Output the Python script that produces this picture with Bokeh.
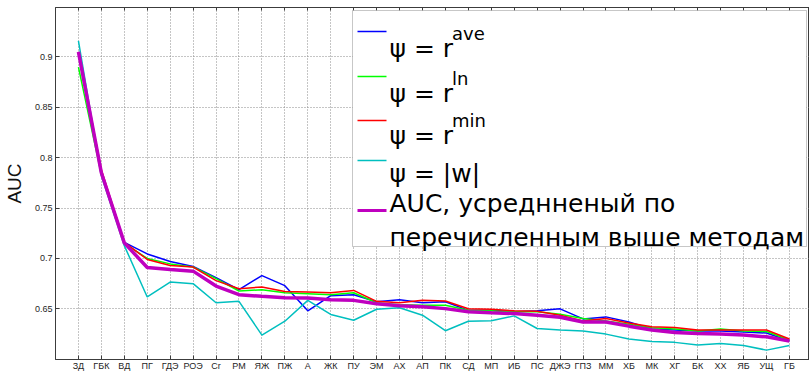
from bokeh.plotting import figure
from bokeh.models import FixedTicker, Range1d, Label, BoxAnnotation, LinearAxis
from bokeh.embed import file_html
from bokeh.resources import INLINE

# ---------------- data ----------------
categories = ["ЗД", "ГБК", "ВД", "ПГ", "ГДЭ", "РОЭ", "Сr", "РМ", "ЯЖ", "ПЖ", "А", "ЖК",
              "ПУ", "ЭМ", "АХ", "АП", "ПК", "СД", "МП", "ИБ", "ПС", "ДЖЭ", "ГПЗ", "ММ",
              "ХБ", "МК", "ХГ", "БК", "ХХ", "ЯБ", "УЩ", "ГБ"]

auc_r_ave = [0.905, 0.786, 0.716, 0.7045, 0.697, 0.692, 0.681, 0.669, 0.683, 0.673, 0.648, 0.663,
             0.664, 0.657, 0.659, 0.656, 0.657, 0.6485, 0.6485, 0.647, 0.648, 0.650, 0.640, 0.642,
             0.637, 0.630, 0.629, 0.628, 0.628, 0.627, 0.626, 0.618]
auc_r_ln = [0.890, 0.783, 0.715, 0.700, 0.6946, 0.6915, 0.680, 0.6677, 0.669, 0.666, 0.665, 0.664,
            0.666, 0.656, 0.654, 0.6535, 0.6535, 0.6485, 0.648, 0.647, 0.647, 0.6447, 0.6404, 0.638,
            0.6347, 0.6312, 0.630, 0.628, 0.630, 0.628, 0.6275, 0.619]
auc_r_min = [0.905, 0.788, 0.716, 0.699, 0.693, 0.6914, 0.678, 0.670, 0.6717, 0.6673, 0.6667, 0.666,
             0.6683, 0.6574, 0.656, 0.6584, 0.6578, 0.650, 0.6496, 0.648, 0.6476, 0.6437, 0.638, 0.6404,
             0.636, 0.6322, 0.6315, 0.629, 0.629, 0.629, 0.629, 0.620]
auc_w = [0.916, 0.782, 0.7127, 0.6618, 0.6766, 0.675, 0.656, 0.6574, 0.6239, 0.6377, 0.6584, 0.6444,
         0.6387, 0.6496, 0.651, 0.6437, 0.6283, 0.6377, 0.6381, 0.643, 0.6305, 0.6289, 0.628, 0.6249,
         0.620, 0.6175, 0.6167, 0.614, 0.6157, 0.6135, 0.609, 0.6135]
auc_mean = [0.905, 0.785, 0.7155, 0.691, 0.689, 0.6874, 0.6726, 0.664, 0.6624, 0.6611, 0.6608, 0.6591,
            0.6584, 0.6551, 0.653, 0.652, 0.6502, 0.647, 0.646, 0.6453, 0.6437, 0.6417, 0.637, 0.637,
            0.6328, 0.6289, 0.6266, 0.6256, 0.6249, 0.624, 0.6222, 0.618]

y_ticks = [0.65, 0.7, 0.75, 0.8, 0.85, 0.9]
y_tick_labels = ["0.65", "0.7", "0.75", "0.8", "0.85", "0.9"]

# ---------------- layout ----------------
W, H = 809, 373
BL, BT, BB = 55, 7, 12
FONT = "Liberation Sans"
LEG_FONT = "DejaVu Sans"
AX = "#3c3c3c"

x = list(range(1, len(categories) + 1))

p = figure(width=W, height=H, output_backend="svg", toolbar_location=None,
           x_range=Range1d(0, 32.875), y_range=Range1d(0.5997, 0.9491),
           min_border_left=BL, min_border_right=0, min_border_top=BT, min_border_bottom=BB,
           background_fill_color="white", border_fill_color="white")
p.outline_line_color = AX
p.outline_line_width = 1

xax = p.below[0]
yax = p.left[0]

# axes
xax.axis_label = None
xax.ticker = FixedTicker(ticks=x)
xax.major_label_overrides = {xi: c for xi, c in zip(x, categories)}
yax.ticker = FixedTicker(ticks=y_ticks)
yax.major_label_overrides = {t: s for t, s in zip(y_ticks, y_tick_labels)}
top_axis = LinearAxis(ticker=FixedTicker(ticks=x), axis_label=None,
                      major_label_overrides={xi: "" for xi in x})
p.add_layout(top_axis, "above")
for ax in (xax, yax, top_axis):
    ax.major_tick_in = 4
    ax.major_tick_out = 0
    ax.minor_tick_in = 0
    ax.minor_tick_out = 0
    ax.axis_line_color = AX
    ax.major_tick_line_color = AX
    ax.major_label_text_font = FONT
    ax.major_label_text_color = "#262626"
top_axis.major_tick_in = 3
top_axis.major_label_text_font_size = "0px"
top_axis.major_label_standoff = 0
xax.major_label_text_font_size = "9px"
yax.major_label_text_font_size = "9px"
xax.major_label_standoff = 1
yax.major_label_standoff = 3
yax.axis_label = "AUC"
yax.axis_label_text_font = FONT
yax.axis_label_text_font_size = "19px"
yax.axis_label_text_font_style = "normal"
yax.axis_label_text_color = "#111111"
yax.axis_label_standoff = 7

# grid
p.xgrid.ticker = FixedTicker(ticks=x)
p.ygrid.ticker = FixedTicker(ticks=y_ticks)
for g in (p.xgrid[0], p.ygrid[0]):
    g.grid_line_color = "#8a8a8a"
    g.grid_line_dash = "1 2"
    g.grid_line_width = 1

# series
p.line(x, auc_r_ave, line_color="#0000ff", line_width=1.5)
p.line(x, auc_r_ln, line_color="#00ff00", line_width=1.5)
p.line(x, auc_r_min, line_color="#ff0000", line_width=1.5)
p.line(x, auc_w, line_color="#00bfbf", line_width=1.5)
p.line(x, auc_mean, line_color="#bf00bf", line_width=3.5)

# ---------------- legend (drawn as annotations, page pixel positions) ----------------
FL = BL          # frame left on the page
FB = H - BB      # frame bottom on the page


def sx(px):
    return px - FL


def sy(py):
    return FB - py


def box(l, r, t, b, **kw):
    return BoxAnnotation(left=sx(l), right=sx(r), top=sy(t), bottom=sy(b),
                         left_units="screen", right_units="screen",
                         top_units="screen", bottom_units="screen", level="overlay", **kw)


def label(px, py, text, size):
    return Label(x=sx(px), y=sy(py), x_units="screen", y_units="screen", text=text,
                 text_font=LEG_FONT, text_font_size=f"{size}px", text_color="black",
                 text_baseline="alphabetic", text_align="left", level="overlay")


p.add_layout(box(352, 806, 12, 248, fill_color="white", fill_alpha=1.0,
                 line_color="#444444", line_width=1))

LEG_FS = 25
SUP_FS = 18
TX = 389
SUP_X = TX + 2.5 * LEG_FS
legend_rows = [
    ("#0000ff", 1.5, 33, "ψ = r", "ave", 50),
    ("#00ff00", 1.5, 78, "ψ = r", "ln", 95),
    ("#ff0000", 1.5, 122, "ψ = r", "min", 137),
    ("#00bfbf", 1.5, 162, "ψ = |w|", "", 175),
]
for color, lw, ly, main, sup, base in legend_rows:
    p.add_layout(box(357, 386, ly - lw / 2, ly + lw / 2, fill_color=color, fill_alpha=1.0,
                     line_color=None))
    p.add_layout(label(TX, base, main, LEG_FS))
    if sup:
        p.add_layout(label(SUP_X, base - 15, sup, SUP_FS))

p.add_layout(box(357, 386, 210.5, 213.5, fill_color="#bf00bf", fill_alpha=1.0, line_color=None))
p.add_layout(label(TX, 205, "AUC, усреднненый по", LEG_FS))
p.add_layout(label(TX, 239, "перечисленным выше методам", LEG_FS))

open("out.html", "w").write(file_html(p, INLINE))
